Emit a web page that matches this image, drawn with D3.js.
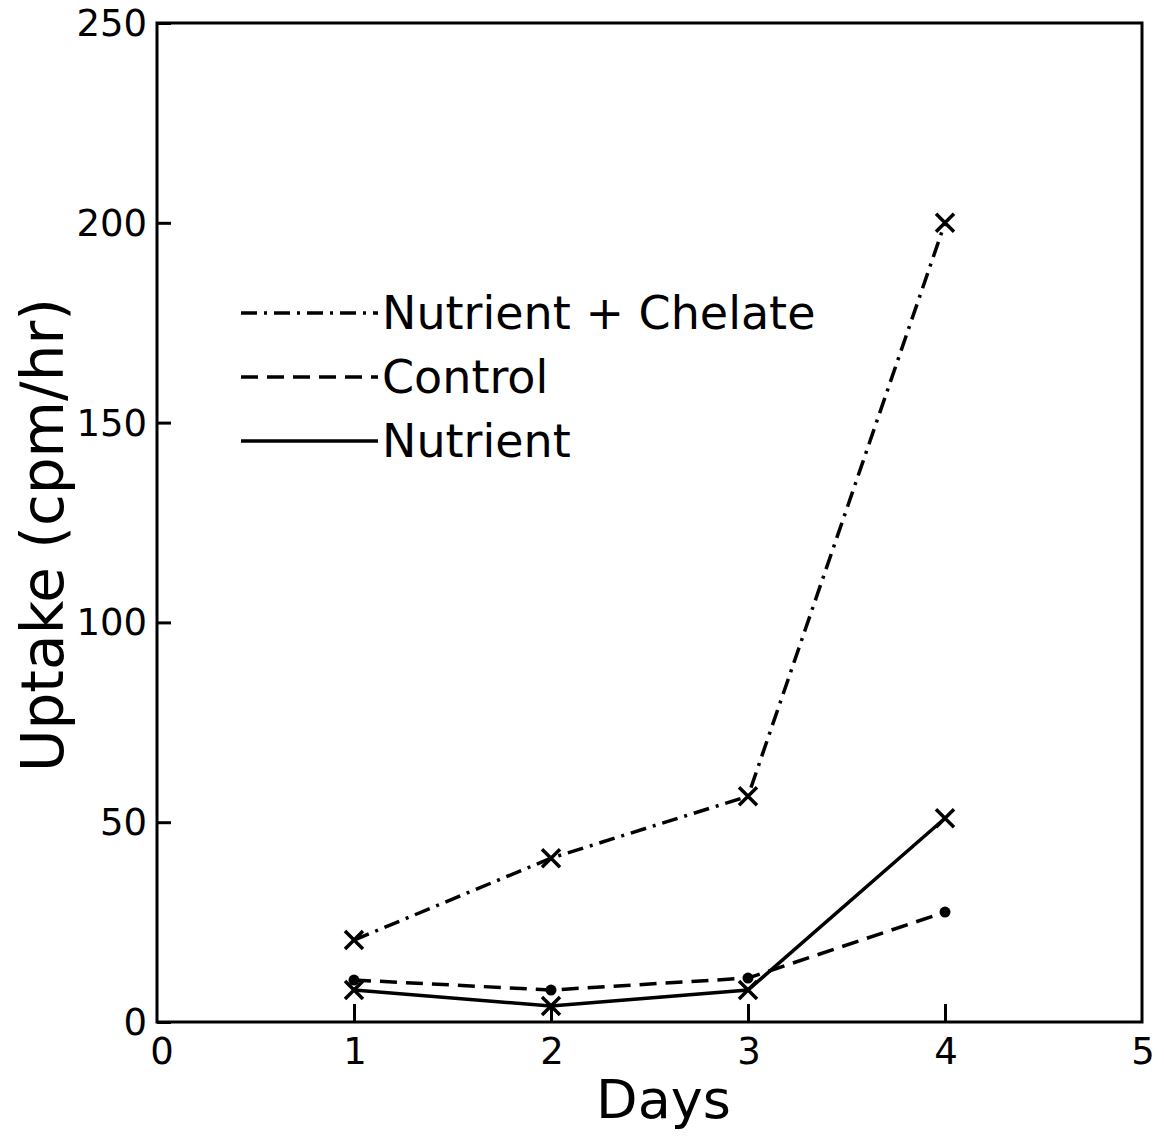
<!DOCTYPE html>
<html><head><meta charset="utf-8">
<script src="https://cdn.jsdelivr.net/npm/d3@7"></script>
<style>body{margin:0;background:#fff}svg{display:block}text{font-family:"DejaVu Sans",sans-serif;fill:#000}</style>
</head><body><svg id="c" width="1164" height="1143"></svg>
<script>
const days = [1, 2, 3, 4];
const chelate = [20.5, 41, 56.5, 200];
const control = [10.5, 8, 11, 27.5];
const nutrient = [8, 4, 8, 51];
const xTicks = [0, 1, 2, 3, 4, 5];
const yTicks = [0, 50, 100, 150, 200, 250];
const seriesNames = ["Nutrient + Chelate", "Control", "Nutrient"];

const svg = d3.select("#c");
const L = 157, R = 1142, T = 23, B = 1022;
const x = d3.scaleLinear().domain([0, 5]).range([L, R]);
const y = d3.scaleLinear().domain([0, 250]).range([B, T]);

// frame
svg.append("rect").attr("x", L).attr("y", T).attr("width", R - L).attr("height", B - T)
  .attr("fill", "none").attr("stroke", "#000").attr("stroke-width", 3);

// y axis ticks (inward)
const ya = svg.append("g").attr("transform", `translate(${L},0)`)
  .call(d3.axisRight(y).tickValues(yTicks).tickSize(14).tickFormat(""));
ya.select(".domain").remove();
ya.selectAll("line").attr("stroke-width", 3);
svg.selectAll(".ylab").data(yTicks).join("text")
  .attr("x", L - 10).attr("y", d => y(d) + 13).attr("text-anchor", "end")
  .attr("font-size", 37).text(d => d);

// x axis ticks (inward)
const xa = svg.append("g").attr("transform", `translate(0,${B})`)
  .call(d3.axisTop(x).tickValues(xTicks.filter(d => d > 0 && d < 5)).tickSize(18).tickFormat(""));
xa.select(".domain").remove();
xa.selectAll("line").attr("stroke-width", 3);
svg.selectAll(".xlab").data(xTicks).join("text")
  .attr("x", d => x(d) + (d === 0 ? 5 : 1)).attr("y", B + 42).attr("text-anchor", "middle")
  .attr("font-size", 37).text(d => d);

// axis titles
svg.append("text").attr("x", (L + R) / 2 + 14).attr("y", 1118).attr("text-anchor", "middle")
  .attr("font-size", 54).text("Days");
svg.append("text").attr("transform", "translate(63,535) rotate(-90)").attr("text-anchor", "middle")
  .attr("font-size", 58).text("Uptake (cpm/hr)");

const line = d3.line().x((d, i) => x(days[i])).y(d => y(d));
const styles = [
  { data: chelate, dash: "16,7,3,7", marker: "x" },
  { data: control, dash: "17,9", marker: "dot" },
  { data: nutrient, dash: null, marker: "x" }
];
styles.forEach(s => {
  svg.append("path").attr("d", line(s.data)).attr("fill", "none").attr("stroke", "#000")
    .attr("stroke-width", 3.5).attr("stroke-dasharray", s.dash);
  s.data.forEach((v, i) => {
    const cx = x(days[i]), cy = y(v);
    if (s.marker === "x") {
      const r = 9;
      svg.append("path").attr("d", `M${cx - r},${cy - r}L${cx + r},${cy + r}M${cx + r},${cy - r}L${cx - r},${cy + r}`)
        .attr("stroke", "#000").attr("stroke-width", 3.5);
    } else {
      svg.append("circle").attr("cx", cx).attr("cy", cy).attr("r", 5.5).attr("fill", "#000");
    }
  });
});

// legend
const legY = [313, 377, 441];
styles.forEach((s, i) => {
  svg.append("line").attr("x1", 241).attr("x2", 378).attr("y1", legY[i]).attr("y2", legY[i])
    .attr("stroke", "#000").attr("stroke-width", 3.5).attr("stroke-dasharray", s.dash);
  svg.append("text").attr("x", 382).attr("y", legY[i] + 16).attr("font-size", 46).text(seriesNames[i]);
});
</script></body></html>
